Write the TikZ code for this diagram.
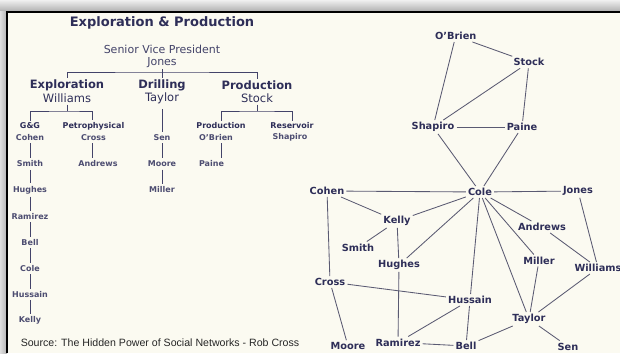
\documentclass[tikz,border=0pt]{standalone}
\usepackage{fontspec}
\setmainfont{DejaVu Sans}
\newfontfamily\srcfont{Liberation Sans}
\definecolor{cream}{HTML}{FBFAF1}
\definecolor{ink}{HTML}{2E2E58}
\definecolor{wire}{HTML}{5A5A72}
\begin{document}
\begin{tikzpicture}[x=1pt,y=-1pt,
  title/.style={font=\fontsize{13}{15}\selectfont\bfseries, text=ink, inner sep=1pt},
  vp/.style={font=\fontsize{11}{13}\selectfont, text=ink!90, inner sep=1pt},
  hd/.style={font=\fontsize{11.5}{13}\selectfont\bfseries, text=ink, inner sep=1.5pt},
  hdname/.style={font=\fontsize{11.5}{13}\selectfont, text=ink, inner sep=1.5pt},
  sub/.style={font=\fontsize{8}{9}\selectfont\bfseries, text=ink, inner sep=2pt},
  nm/.style={font=\fontsize{8}{9}\selectfont\bfseries, text=ink!85, inner sep=2.5pt},
  net/.style={font=\fontsize{9.8}{11}\selectfont\bfseries, text=ink, inner sep=2pt},
  org/.style={draw=ink!90, line width=0.9pt},
  edge/.style={draw=wire, line width=0.85pt}]
\useasboundingbox (0,0) rectangle (620,353);
\clip (0,0) rectangle (620,353);
% frame
\fill[gray!45] (0,0) rectangle (620,353);
\shade[top color=gray!12, bottom color=gray!65] (0,0) rectangle (620,12);
\shade[left color=gray!25, right color=gray!60] (0,12) rectangle (7,353);
\fill[cream] (7,12) rectangle (620,353);
\draw[black, line width=1.5pt] (7,353) -- (7,12) -- (620,12);

% ---------- org chart ----------
\node[title] (ttl) at (162,22.5) {Exploration \& Production};
\node[vp] (svp) at (162,49) {Senior Vice President};
\node[vp] (ojones) at (162,62.5) {Jones};
\node[hd] (oexpl) at (67,85) {Exploration};
\node[hdname] (owill) at (67,98.5) {Williams};
\node[hd] (odrill) at (162,85) {Drilling};
\node[hdname] (otaylor) at (162,98.5) {Taylor};
\node[hd] (oprod) at (257,85) {Production};
\node[hdname] (ostock) at (257,98.5) {Stock};
\coordinate (b1) at (162,72);
\draw[org] (ojones.south) -- (b1);
\draw[org] (oexpl.north) |- (b1) -| (oprod.north);
\draw[org] (b1) -- (odrill.north);

\node[sub] (ogg) at (30,126) {G\&G};
\node[sub] (opetro) at (93.5,126) {Petrophysical};
\node[sub] (oprodsub) at (221,126) {Production};
\node[sub] (oreserv) at (292,126) {Reservoir};
\coordinate (b2) at (67,111);
\coordinate (b3) at (257,111);
\draw[org] (owill.south) -- (b2);
\draw[org] (ogg.north) |- (b2) -| (opetro.north -| 92,0);
\draw[org] (ostock.south) -- (b3);
\draw[org] (oprodsub.north) |- (b3) -| (oreserv.north);

\node[nm] (ocohen) at (30,137.7) {Cohen};
\node[nm] (osmith) at (30,164) {Smith};
\node[nm] (ohughes) at (30,190) {Hughes};
\node[nm] (oramirez) at (30,216.7) {Ramirez};
\node[nm] (obell) at (30,242.5) {Bell};
\node[nm] (ocole) at (30,268.5) {Cole};
\node[nm] (ohussain) at (30,294.5) {Hussain};
\node[nm] (okelly) at (30,320.7) {Kelly};
\foreach \a/\b in {ocohen/osmith,osmith/ohughes,ohughes/oramirez,oramirez/obell,obell/ocole,ocole/ohussain,ohussain/okelly}
  \draw[org] (\a.south) -- (\b.north);

\node[nm] (ocross) at (93.5,137.7) {Cross};
\node[nm] (oandrews) at (98,164) {Andrews};
\draw[org] (ocross.south -| 92,0) -- (oandrews.north -| 92,0);

\node[nm] (osen) at (162,137.7) {Sen};
\node[nm] (omoore) at (162,164) {Moore};
\node[nm] (omiller) at (162,190) {Miller};
\draw[org] (otaylor.south) ++(0,3) -- (osen.north);
\draw[org] (osen.south) -- (omoore.north);
\draw[org] (omoore.south) -- (omiller.north);

\node[nm] (oobrien) at (216,137.7) {O'Brien};
\node[nm] (opaine) at (211.5,164) {Paine};
\node[nm] (oshapiro) at (290,137.7) {Shapiro};
\draw[org] (oobrien.south -| 221,0) -- (opaine.north -| 221,0);

\node[font=\srcfont\fontsize{10.6}{12}\selectfont, text=black!85, inner sep=0pt] (src) at (160,343) {Source: The Hidden Power of Social Networks - Rob Cross};

% ---------- network ----------
\node[net] (rob) at (455.7,36) {O'Brien};
\node[net] (rstock) at (529,62.3) {Stock};
\node[net] (rshap) at (433,127) {Shapiro};
\node[net] (rpaine) at (522,127) {Paine};
\node[net] (rcole) at (480,192) {Cole};
\node[net] (rcohen) at (327,191) {Cohen};
\node[net] (rjones) at (578,191) {Jones};
\node[net] (rkelly) at (397,221) {Kelly};
\node[net] (randrews) at (542,227) {Andrews};
\node[net] (rsmith) at (358,247.5) {Smith};
\node[net] (rhughes) at (399,265) {Hughes};
\node[net] (rmiller) at (539,260.5) {Miller};
\node[net] (rwill) at (598,268) {Williams};
\node[net] (rcross) at (330,282) {Cross};
\node[net] (rhuss) at (470,300) {Hussain};
\node[net] (rtaylor) at (529,319) {Taylor};
\node[net] (rmoore) at (348,346) {Moore};
\node[net] (rram) at (398,342.5) {Ramirez};
\node[net] (rbell) at (466,346) {Bell};
\node[net] (rsen) at (568,346.5) {Sen};
\foreach \a/\b in {rob/rstock,rob/rshap,rstock/rshap,rstock/rpaine,rshap/rpaine,rshap/rcole,rpaine/rcole,
  rcohen/rcole,rcole/rjones,rcohen/rkelly,rkelly/rcole,rcole/rhughes,rcole/rhuss,rhuss/rbell,rcole/rtaylor,
  rcole/rmiller,rcole/randrews,rkelly/rsmith,rkelly/rhughes,rhughes/rram,rcohen/rcross,rcross/rmoore,
  rcross/rhuss,rhuss/rram,rram/rbell,rbell/rtaylor,rmiller/rtaylor,randrews/rwill,rjones/rwill,rwill/rtaylor,rtaylor/rsen}
  \draw[edge] (\a) -- (\b);
\end{tikzpicture}
\end{document}
